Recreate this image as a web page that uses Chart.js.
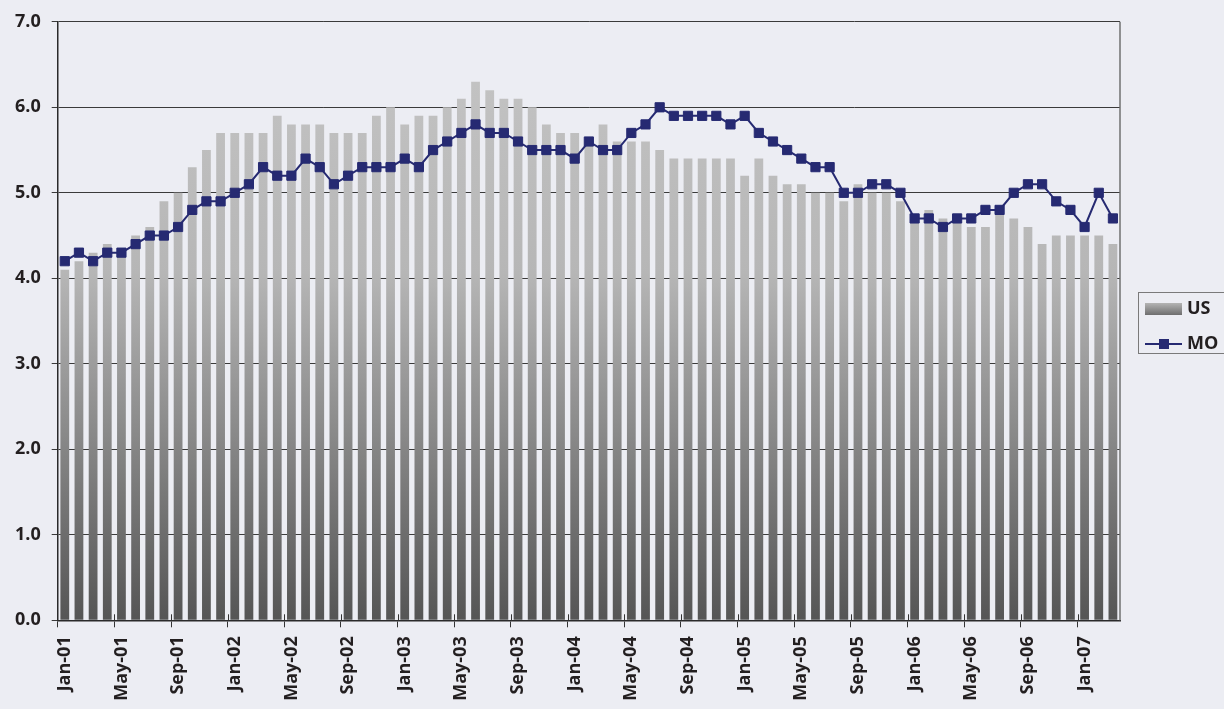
<!DOCTYPE html>
<html>
<head>
<meta charset="utf-8">
<script src="https://cdn.jsdelivr.net/npm/chart.js@4.4.1/dist/chart.umd.min.js"></script>
<style>
  html, body { margin: 0; padding: 0; background: #ecedf3; overflow: hidden; }
  #wrap { width: 1224px; height: 709px; }
</style>
</head>
<body>
<div id="wrap"><canvas id="myChart" width="1224" height="709"></canvas></div>
<script>
// months, Jan-01 .. Mar-07
const months = [
  'Jan-01','Feb-01','Mar-01','Apr-01','May-01','Jun-01','Jul-01','Aug-01','Sep-01','Oct-01','Nov-01','Dec-01',
  'Jan-02','Feb-02','Mar-02','Apr-02','May-02','Jun-02','Jul-02','Aug-02','Sep-02','Oct-02','Nov-02','Dec-02',
  'Jan-03','Feb-03','Mar-03','Apr-03','May-03','Jun-03','Jul-03','Aug-03','Sep-03','Oct-03','Nov-03','Dec-03',
  'Jan-04','Feb-04','Mar-04','Apr-04','May-04','Jun-04','Jul-04','Aug-04','Sep-04','Oct-04','Nov-04','Dec-04',
  'Jan-05','Feb-05','Mar-05','Apr-05','May-05','Jun-05','Jul-05','Aug-05','Sep-05','Oct-05','Nov-05','Dec-05',
  'Jan-06','Feb-06','Mar-06','Apr-06','May-06','Jun-06','Jul-06','Aug-06','Sep-06','Oct-06','Nov-06','Dec-06',
  'Jan-07','Feb-07','Mar-07'
];

const usRate = [
  4.1, 4.2, 4.3, 4.4, 4.3, 4.5, 4.6, 4.9, 5.0, 5.3, 5.5, 5.7,
  5.7, 5.7, 5.7, 5.9, 5.8, 5.8, 5.8, 5.7, 5.7, 5.7, 5.9, 6.0,
  5.8, 5.9, 5.9, 6.0, 6.1, 6.3, 6.2, 6.1, 6.1, 6.0, 5.8, 5.7,
  5.7, 5.6, 5.8, 5.6, 5.6, 5.6, 5.5, 5.4, 5.4, 5.4, 5.4, 5.4,
  5.2, 5.4, 5.2, 5.1, 5.1, 5.0, 5.0, 4.9, 5.1, 5.0, 5.0, 4.9,
  4.7, 4.8, 4.7, 4.7, 4.6, 4.6, 4.8, 4.7, 4.6, 4.4, 4.5, 4.5,
  4.5, 4.5, 4.4
];

const moRate = [
  4.2, 4.3, 4.2, 4.3, 4.3, 4.4, 4.5, 4.5, 4.6, 4.8, 4.9, 4.9,
  5.0, 5.1, 5.3, 5.2, 5.2, 5.4, 5.3, 5.1, 5.2, 5.3, 5.3, 5.3,
  5.4, 5.3, 5.5, 5.6, 5.7, 5.8, 5.7, 5.7, 5.6, 5.5, 5.5, 5.5,
  5.4, 5.6, 5.5, 5.5, 5.7, 5.8, 6.0, 5.9, 5.9, 5.9, 5.9, 5.8,
  5.9, 5.7, 5.6, 5.5, 5.4, 5.3, 5.3, 5.0, 5.0, 5.1, 5.1, 5.0,
  4.7, 4.7, 4.6, 4.7, 4.7, 4.8, 4.8, 5.0, 5.1, 5.1, 4.9, 4.8,
  4.6, 5.0, 4.7
];

const yTicks = [0, 1, 2, 3, 4, 5, 6, 7];

const navy = '#262a72';
const fontFam = '"Open Sans", "DejaVu Sans", sans-serif';

function barGradient(ctx) {
  const chart = ctx.chart;
  const area = chart.chartArea;
  if (!area) return '#999999';
  const g = chart.ctx.createLinearGradient(0, area.top, 0, area.bottom);
  g.addColorStop(0, '#c6c6c6');
  g.addColorStop(0.42, '#b6b6b6');
  g.addColorStop(1, '#555555');
  return g;
}

// right border of plot, x tick stubs above the axis, boxed legend on the right
const extras = {
  id: 'extras',
  afterDraw(chart) {
    const c = chart.ctx;
    const a = chart.chartArea;
    const xs = chart.scales.x;
    c.save();
    c.strokeStyle = '#707070';
    c.lineWidth = 1.5;
    c.beginPath();
    c.moveTo(a.right, a.top);
    c.lineTo(a.right, a.bottom);
    c.stroke();

    // tick stubs crossing the axis every 4 months
    c.strokeStyle = '#333333';
    c.lineWidth = 1;
    c.beginPath();
    for (let i = 4; i < months.length; i += 4) {
      const px = Math.round(xs.getPixelForTick(i) - xs.width / months.length / 2) + 0.5;
      c.moveTo(px, a.bottom - 6);
      c.lineTo(px, a.bottom);
    }
    c.stroke();

    // legend box
    c.strokeStyle = '#7a7a7a';
    c.lineWidth = 1;
    c.strokeRect(1138.5, 292.5, 110, 61);

    const g = c.createLinearGradient(0, 303, 0, 315);
    g.addColorStop(0, '#b4b4b4');
    g.addColorStop(1, '#6e6e6e');
    c.fillStyle = g;
    c.fillRect(1145, 303, 37, 12);

    c.strokeStyle = navy;
    c.lineWidth = 2;
    c.beginPath();
    c.moveTo(1145, 344);
    c.lineTo(1182, 344);
    c.stroke();
    c.fillStyle = navy;
    c.fillRect(1159, 339, 10, 10);

    c.fillStyle = '#231f20';
    c.font = 'bold 18px ' + fontFam;
    c.textBaseline = 'middle';
    c.textAlign = 'left';
    c.fillText(chart.data.datasets[1].label, 1187, 309);
    c.fillText(chart.data.datasets[0].label, 1187, 344);
    c.restore();
  }
};

new Chart(document.getElementById('myChart'), {
  type: 'bar',
  data: {
    labels: months,
    datasets: [
      {
        type: 'line',
        label: 'MO',
        data: moRate,
        borderColor: navy,
        backgroundColor: navy,
        borderWidth: 2,
        pointStyle: 'rect',
        pointRadius: 6.5,
        pointBorderWidth: 1,
        pointBackgroundColor: navy,
        pointBorderColor: navy,
        tension: 0,
        order: 0
      },
      {
        label: 'US',
        data: usRate,
        backgroundColor: barGradient,
        borderWidth: 0,
        categoryPercentage: 1,
        barPercentage: 0.62,
        order: 1
      }
    ]
  },
  options: {
    responsive: false,
    animation: false,
    layout: { padding: { top: 21.7, right: 104, bottom: 0, left: 0 } },
    plugins: {
      legend: { display: false },
      tooltip: { enabled: false }
    },
    scales: {
      x: {
        offset: true,
        afterFit: s => { s.height = 88.7; },
        grid: {
          offset: true,
          drawOnChartArea: false,
          drawTicks: true,
          tickLength: 7,
          color: c => (c.index % 4 === 0 ? '#333333' : 'rgba(0,0,0,0)'),
          lineWidth: 1
        },
        border: { color: '#2a2a2a', width: 1.5 },
        ticks: {
          autoSkip: false,
          maxRotation: 90,
          minRotation: 90,
          padding: 9,
          color: '#231f20',
          font: { family: fontFam, size: 18, weight: 'bold' },
          callback: function (v, i) { return i % 4 === 0 ? months[i] : ''; }
        }
      },
      y: {
        min: 0,
        max: 7,
        afterFit: s => { s.width = 57.7; },
        afterBuildTicks: s => { s.ticks = yTicks.map(v => ({ value: v })); },
        grid: {
          color: '#3a3a3a',
          lineWidth: 1,
          tickLength: 6
        },
        border: { color: '#2a2a2a', width: 1.5 },
        ticks: {
          padding: 11,
          color: '#231f20',
          font: { family: fontFam, size: 18, weight: 'bold' },
          callback: v => Number(v).toFixed(1)
        }
      }
    }
  },
  plugins: [extras]
});
</script>
</body>
</html>
